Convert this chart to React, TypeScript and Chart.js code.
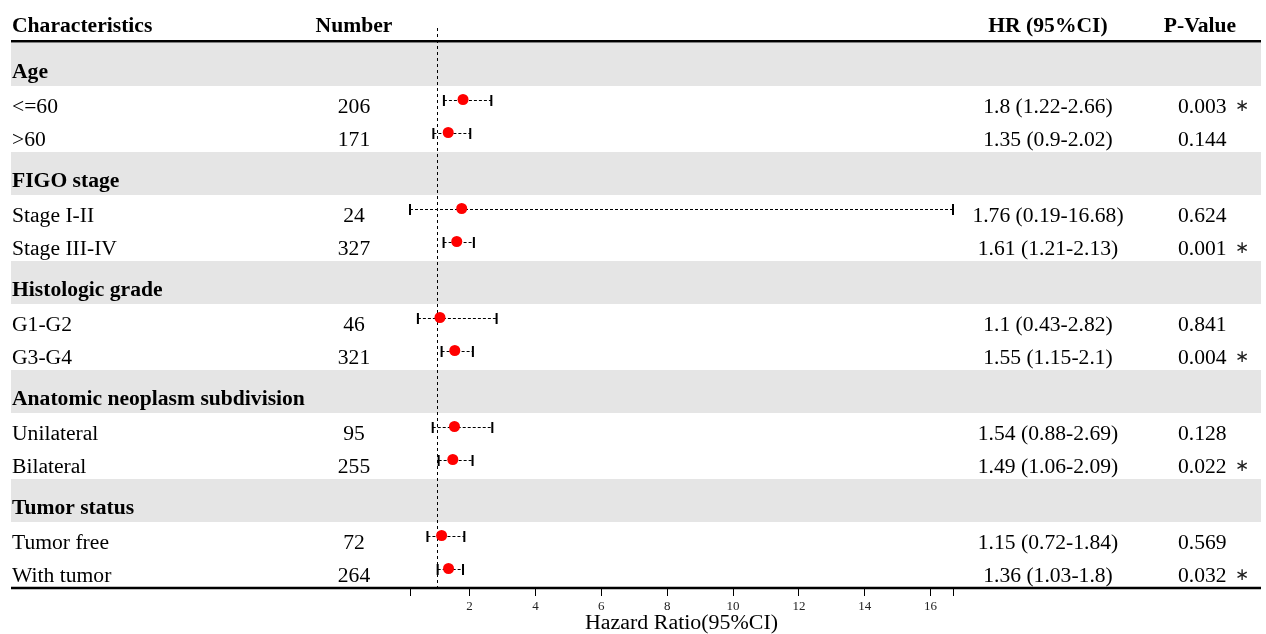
import React, { useEffect, useRef } from 'react';
import { Chart, registerables } from 'chart.js';

Chart.register(...registerables);

// ---------- data ----------
const GROUPS = ['Age', 'FIGO stage', 'Histologic grade', 'Anatomic neoplasm subdivision', 'Tumor status'];
const SUBGROUPS = [
  ['<=60', '>60'],
  ['Stage I-II', 'Stage III-IV'],
  ['G1-G2', 'G3-G4'],
  ['Unilateral', 'Bilateral'],
  ['Tumor free', 'With tumor'],
];
const NUMBERS = [206, 171, 24, 327, 46, 321, 95, 255, 72, 264];
const HR = [1.8, 1.35, 1.76, 1.61, 1.1, 1.55, 1.54, 1.49, 1.15, 1.36];
const LOWER = [1.22, 0.9, 0.19, 1.21, 0.43, 1.15, 0.88, 1.06, 0.72, 1.03];
const UPPER = [2.66, 2.02, 16.68, 2.13, 2.82, 2.1, 2.69, 2.09, 1.84, 1.8];
const PVALUES = [0.003, 0.144, 0.624, 0.001, 0.841, 0.004, 0.128, 0.022, 0.569, 0.032];
const X_TICKS = [0.19, 2, 4, 6, 8, 10, 12, 14, 16, 16.68];
const X_TICK_LABELS = ['', '2', '4', '6', '8', '10', '12', '14', '16', ''];
const COLUMNS = ['Characteristics', 'Number', 'HR (95%CI)', 'P-Value'];
const REF_VALUE = 1;
const AXIS_TITLE = 'Hazard Ratio(95%CI)';

// ---------- layout ----------
const W = 1266;
const H = 634;
const HEADER_H = 43;
const ROW_H = 33;
const TABLE_TOP = 43;
const TABLE_LEFT = 11;
const TABLE_RIGHT = 1261;
const COL_LABEL_X = 12;
const COL_NUM_X = 354;
const COL_HR_X = 1048;
const COL_P_X = 1178;
const COL_P_HEAD_X = 1200;
const FONT = '"Liberation Serif", "Times New Roman", serif';
const SX = 1.08;

type Row = { kind: 'group' | 'item'; label: string; top: number; bottom: number; idx: number };

function buildRows(): Row[] {
  const rows: Row[] = [];
  let y = 0;
  let k = 0;
  GROUPS.forEach((g, gi) => {
    rows.push({ kind: 'group', label: g, top: y, bottom: y + HEADER_H, idx: -1 });
    y += HEADER_H;
    SUBGROUPS[gi].forEach((s) => {
      rows.push({ kind: 'item', label: s, top: y, bottom: y + ROW_H, idx: k });
      y += ROW_H;
      k++;
    });
  });
  return rows;
}
const ROWS = buildRows();
const TOTAL = ROWS[ROWS.length - 1].bottom;
const ITEM_ROWS = ROWS.filter((r) => r.kind === 'item');

function txt(
  ctx: CanvasRenderingContext2D,
  s: string,
  x: number,
  y: number,
  align: CanvasTextAlign,
  bold: boolean,
  size = 20,
  sx = SX,
  family = FONT,
  color = '#000'
) {
  ctx.save();
  ctx.font = `${bold ? 'bold ' : ''}${size}px ${family}`;
  ctx.textBaseline = 'alphabetic';
  ctx.textAlign = align;
  ctx.fillStyle = color;
  ctx.translate(x, y);
  ctx.scale(sx, 1);
  ctx.fillText(s, 0, 0);
  ctx.restore();
}

const tablePlugin = {
  id: 'forestTable',
  beforeDatasetsDraw(chart: any) {
    const ctx: CanvasRenderingContext2D = chart.ctx;
    const xs = chart.scales.x;
    const ys = chart.scales.y;
    ctx.save();

    // gray group bands
    ROWS.forEach((r) => {
      if (r.kind !== 'group') return;
      const t = ys.getPixelForValue(r.top);
      const b = ys.getPixelForValue(r.bottom);
      ctx.fillStyle = '#e5e5e5';
      ctx.fillRect(TABLE_LEFT, t, TABLE_RIGHT - TABLE_LEFT, b - t);
    });

    // column headers
    txt(ctx, COLUMNS[0], COL_LABEL_X, 32, 'left', true);
    txt(ctx, COLUMNS[1], COL_NUM_X, 32, 'center', true);
    txt(ctx, COLUMNS[2], COL_HR_X, 32, 'center', true);
    txt(ctx, COLUMNS[3], COL_P_HEAD_X, 32, 'center', true);

    // rows text
    ROWS.forEach((r) => {
      const b = ys.getPixelForValue(r.bottom);
      if (r.kind === 'group') {
        txt(ctx, r.label, COL_LABEL_X, b - 8, 'left', true);
      } else {
        const i = r.idx;
        const base = b - 6.5;
        txt(ctx, r.label, COL_LABEL_X, base, 'left', false);
        txt(ctx, String(NUMBERS[i]), COL_NUM_X, base, 'center', false);
        txt(ctx, `${HR[i]} (${LOWER[i]}-${UPPER[i]})`, COL_HR_X, base, 'center', false);
        const p = PVALUES[i].toFixed(3);
        txt(ctx, p, COL_P_X, base, 'left', false);
        if (PVALUES[i] < 0.05) {
          txt(ctx, '\u2217', 1242, base - 2, 'center', false, 17, 1, FONT, '#222');
        }
      }
    });

    // horizontal rules
    ctx.strokeStyle = '#000';
    ctx.setLineDash([]);
    ctx.lineWidth = 2.4;
    ctx.beginPath();
    ctx.moveTo(TABLE_LEFT, 41.2);
    ctx.lineTo(TABLE_RIGHT, 41.2);
    ctx.stroke();
    ctx.lineWidth = 2.4;
    ctx.beginPath();
    const bottomY = ys.getPixelForValue(TOTAL);
    ctx.moveTo(TABLE_LEFT, bottomY);
    ctx.lineTo(TABLE_RIGHT, bottomY);
    ctx.stroke();

    // reference line
    const rx = Math.round(xs.getPixelForValue(REF_VALUE)) + 0.5;
    ctx.lineWidth = 1;
    ctx.setLineDash([3, 3]);
    ctx.beginPath();
    ctx.moveTo(rx, 28);
    ctx.lineTo(rx, bottomY);
    ctx.stroke();

    // CI lines
    ITEM_ROWS.forEach((r) => {
      const i = r.idx;
      const yc = Math.round(ys.getPixelForValue((r.top + r.bottom) / 2 - 3)) + 0.5;
      const x1 = xs.getPixelForValue(LOWER[i]);
      const x2 = xs.getPixelForValue(UPPER[i]);
      ctx.lineWidth = 1;
      ctx.setLineDash([3, 2]);
      ctx.beginPath();
      ctx.moveTo(x1, yc);
      ctx.lineTo(x2, yc);
      ctx.stroke();
      ctx.setLineDash([]);
      ctx.lineWidth = 2;
      ctx.beginPath();
      ctx.moveTo(x1, yc - 5.5);
      ctx.lineTo(x1, yc + 5.5);
      ctx.moveTo(x2, yc - 5.5);
      ctx.lineTo(x2, yc + 5.5);
      ctx.stroke();
    });

    // axis title
    txt(ctx, AXIS_TITLE, (xs.left + xs.right) / 2, 629, 'center', false, 20.5, 1.07);

    ctx.restore();
  },
};

export default function App() {
  const ref = useRef<HTMLCanvasElement | null>(null);

  useEffect(() => {
    if (!ref.current) return;
    const points = ITEM_ROWS.map((r) => ({ x: HR[r.idx], y: (r.top + r.bottom) / 2 - 3 }));
    const chart = new Chart(ref.current, {
      type: 'scatter',
      data: {
        datasets: [
          {
            data: points,
            backgroundColor: '#ff0000',
            borderWidth: 0,
            pointRadius: 5.5,
            pointHoverRadius: 5.5,
          },
        ],
      },
      options: {
        animation: false,
        responsive: false,
        devicePixelRatio: 1,
        events: [],
        layout: { padding: { left: 410, right: W - 953, top: TABLE_TOP, bottom: 0 } },
        plugins: { legend: { display: false }, tooltip: { enabled: false }, title: { display: false } },
        scales: {
          x: {
            type: 'linear',
            position: 'bottom',
            min: X_TICKS[0],
            max: X_TICKS[X_TICKS.length - 1],
            afterBuildTicks: (scale: any) => {
              scale.ticks = X_TICKS.map((v) => ({ value: v }));
            },
            afterFit: (scale: any) => {
              scale.height = H - TABLE_TOP - TOTAL;
            },
            border: { display: false },
            grid: {
              drawOnChartArea: false,
              drawTicks: true,
              tickLength: 8,
              tickColor: '#000',
              tickWidth: 1,
            },
            ticks: {
              autoSkip: false,
              maxRotation: 0,
              padding: 3,
              color: '#222',
              font: { family: FONT, size: 13 },
              callback: (_v: any, idx: number) => X_TICK_LABELS[idx],
            },
          },
          y: {
            type: 'linear',
            display: false,
            reverse: true,
            min: 0,
            max: TOTAL,
          },
        },
      },
      plugins: [tablePlugin],
    });
    return () => chart.destroy();
  }, []);

  return (
    <div style={{ position: 'fixed', left: 0, top: 0, width: W, height: H, background: '#fff' }}>
      <canvas ref={ref} width={W} height={H} style={{ display: 'block', width: W, height: H }} />
    </div>
  );
}
